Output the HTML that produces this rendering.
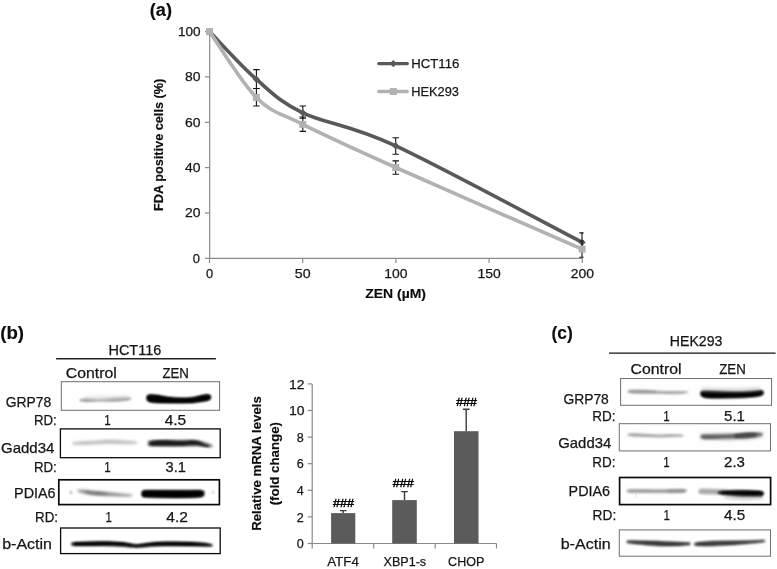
<!DOCTYPE html>
<html><head><meta charset="utf-8"><title>Figure</title>
<style>
html,body{margin:0;padding:0;background:#fff;}
body{width:777px;height:569px;overflow:hidden;font-family:"Liberation Sans",sans-serif;}
svg{display:block;position:absolute;left:0;top:0;}
text{font-family:"Liberation Sans",sans-serif;fill:#161616;stroke:#161616;stroke-width:0.25px;}
.b{font-weight:bold;fill:#0c0c0c;stroke:#0c0c0c;stroke-width:0.15px;}
</style></head><body>
<svg width="777" height="569" viewBox="0 0 777 569">
<defs>
<filter id="f1" x="-20%" y="-100%" width="140%" height="300%"><feGaussianBlur stdDeviation="1.1"/></filter>
<filter id="f2" x="-20%" y="-100%" width="140%" height="300%"><feGaussianBlur stdDeviation="1.8"/></filter>
<filter id="f3" x="-20%" y="-100%" width="140%" height="300%"><feGaussianBlur stdDeviation="0.8"/></filter>
</defs>
<rect x="0" y="0" width="777" height="569" fill="#fff"/>
<g opacity="0.999">

<text x="149.8" y="16.4" font-size="17.5" textLength="22.2" lengthAdjust="spacingAndGlyphs" class="b">(a)</text>
<g stroke="#8a8a8a" stroke-width="1.2" fill="none">
<path d="M209.7 31 V258.3 H582.5"/>
<path d="M205 258.3 H209.5"/>
<path d="M205 213.0 H209.5"/>
<path d="M205 167.6 H209.5"/>
<path d="M205 122.3 H209.5"/>
<path d="M205 76.9 H209.5"/>
<path d="M205 31.6 H209.5"/>
<path d="M209.5 258.3 V263"/>
<path d="M302.7 258.3 V263"/>
<path d="M395.9 258.3 V263"/>
<path d="M489.1 258.3 V263"/>
<path d="M582.3 258.3 V263"/>
</g>
<text x="192.8" y="262.6" font-size="13.3" textLength="7.2" lengthAdjust="spacingAndGlyphs">0</text>
<text x="185.1" y="217.3" font-size="13.3" textLength="15.5" lengthAdjust="spacingAndGlyphs">20</text>
<text x="185.1" y="171.9" font-size="13.3" textLength="15.5" lengthAdjust="spacingAndGlyphs">40</text>
<text x="185.1" y="126.6" font-size="13.3" textLength="15.5" lengthAdjust="spacingAndGlyphs">60</text>
<text x="185.1" y="81.2" font-size="13.3" textLength="15.5" lengthAdjust="spacingAndGlyphs">80</text>
<text x="178.0" y="35.9" font-size="13.3" textLength="22.6" lengthAdjust="spacingAndGlyphs">100</text>
<text x="205.9" y="278.0" font-size="13.3" textLength="7.2" lengthAdjust="spacingAndGlyphs">0</text>
<text x="294.8" y="278.0" font-size="13.3" textLength="15.8" lengthAdjust="spacingAndGlyphs">50</text>
<text x="384.3" y="278.0" font-size="13.3" textLength="23.2" lengthAdjust="spacingAndGlyphs">100</text>
<text x="477.5" y="278.0" font-size="13.3" textLength="23.2" lengthAdjust="spacingAndGlyphs">150</text>
<text x="570.7" y="278.0" font-size="13.3" textLength="23.2" lengthAdjust="spacingAndGlyphs">200</text>
<text x="365.3" y="297.9" font-size="12.5" textLength="60.6" lengthAdjust="spacingAndGlyphs" class="b">ZEN (µM)</text>
<text x="163.3" y="211" font-size="13.5" textLength="132.3" lengthAdjust="spacingAndGlyphs" class="b" transform="rotate(-90 163.3 211)">FDA positive cells (%)</text>
<path d="M209.5 31.6 C217.3 39.5 240.8 65.7 256.3 79.2 C271.9 92.7 279.6 101.7 302.8 112.8 C326.0 123.9 349.1 124.3 395.7 145.9 C442.2 167.5 551.0 226.3 582.1 242.4" fill="none" stroke="#595959" stroke-width="3.6" stroke-linecap="round" stroke-linejoin="round"/>
<path d="M256.4 69.6 V88.5 M253.2 69.6 H259.59999999999997 M253.2 88.5 H259.59999999999997" stroke="#111" stroke-width="1.1" fill="none"/>
<path d="M302.8 106 V118.3 M299.6 106 H306.0 M299.6 118.3 H306.0" stroke="#111" stroke-width="1.1" fill="none"/>
<path d="M395.7 137.7 V154.2 M392.5 137.7 H398.9 M392.5 154.2 H398.9" stroke="#111" stroke-width="1.1" fill="none"/>
<path d="M582.0 232.9 V251.5 M579.4 232.9 H583.6 M579.4 251.5 H583.6" stroke="#111" stroke-width="1.1" fill="none"/>
<path d="M205.9 31.6 L209.5 28.0 L213.1 31.6 L209.5 35.2Z" fill="#595959"/>
<path d="M252.7 79.2 L256.3 75.6 L259.9 79.2 L256.3 82.8Z" fill="#595959"/>
<path d="M299.2 112.8 L302.8 109.2 L306.4 112.8 L302.8 116.4Z" fill="#595959"/>
<path d="M392.1 145.9 L395.7 142.3 L399.3 145.9 L395.7 149.5Z" fill="#595959"/>
<path d="M578.5 242.4 L582.1 238.8 L585.7 242.4 L582.1 246.0Z" fill="#595959"/>
<path d="M209.5 31.6 C217.3 42.6 240.8 81.9 256.3 97.4 C271.9 112.9 279.6 112.7 302.8 124.4 C326.0 136.1 349.1 146.7 395.7 167.5 C442.2 188.3 551.0 235.5 582.1 249.1" fill="none" stroke="#b2b2b2" stroke-width="3.6" stroke-linecap="round" stroke-linejoin="round"/>
<path d="M256.4 88.5 V106 M253.2 88.5 H259.59999999999997 M253.2 106 H259.59999999999997" stroke="#111" stroke-width="1.1" fill="none"/>
<path d="M302.8 117 V131.4 M299.6 117 H306.0 M299.6 131.4 H306.0" stroke="#111" stroke-width="1.1" fill="none"/>
<path d="M395.7 160.9 V174.2 M392.5 160.9 H398.9 M392.5 174.2 H398.9" stroke="#111" stroke-width="1.1" fill="none"/>
<path d="M582.0 241 V257.2 M579.4 241 H583.6 M579.4 257.2 H583.6" stroke="#111" stroke-width="1.1" fill="none"/>
<rect x="206.0" y="28.1" width="7" height="7" fill="#b2b2b2"/>
<rect x="252.8" y="93.9" width="7" height="7" fill="#b2b2b2"/>
<rect x="299.3" y="120.9" width="7" height="7" fill="#b2b2b2"/>
<rect x="392.2" y="164.0" width="7" height="7" fill="#b2b2b2"/>
<rect x="578.6" y="245.6" width="7" height="7" fill="#b2b2b2"/>
<path d="M378.8 63.6 H407.3" stroke="#595959" stroke-width="3.4" stroke-linecap="round"/>
<path d="M389.7 63.6 L393.3 60 L396.9 63.6 L393.3 67.2Z" fill="#595959"/>
<path d="M378.8 91.5 H407.3" stroke="#b2b2b2" stroke-width="3.4" stroke-linecap="round"/>
<rect x="389.8" y="88" width="7" height="7" fill="#b2b2b2"/>
<text x="411.3" y="68.4" font-size="13.5" textLength="48.0" lengthAdjust="spacingAndGlyphs">HCT116</text>
<text x="411.3" y="96.1" font-size="13.5" textLength="47.7" lengthAdjust="spacingAndGlyphs">HEK293</text>
<text x="0.2" y="338.7" font-size="17.5" textLength="23.8" lengthAdjust="spacingAndGlyphs" class="b">(b)</text>
<text x="108.5" y="354.5" font-size="14.5" textLength="52.7" lengthAdjust="spacingAndGlyphs">HCT116</text>
<path d="M56.1 358.7 H215.9" stroke="#222" stroke-width="1.4"/>
<text x="65.8" y="377.8" font-size="14.3" textLength="51.0" lengthAdjust="spacingAndGlyphs">Control</text>
<text x="162.4" y="377.8" font-size="14.3" textLength="26.5" lengthAdjust="spacingAndGlyphs">ZEN</text>
<rect x="61.3" y="381.7" width="158.3" height="28.6" fill="#fefefe" stroke="#6e6e6e" stroke-width="1"/>
<path d="M80.0 399.8 C81.2 399.7 84.3 399.0 87.0 399.0 C89.7 399.0 93.2 399.8 96.0 399.9 C98.8 400.0 101.3 399.8 104.0 399.6 C106.7 399.4 109.3 398.9 112.0 398.7 C114.7 398.5 117.5 398.3 120.0 398.2 C122.5 398.1 125.2 398.1 127.0 398.1 C128.8 398.1 130.3 398.3 131.0 398.3 L131.0 398.9 C130.3 399.1 128.8 399.6 127.0 399.9 C125.2 400.2 122.5 400.6 120.0 400.8 C117.5 401.0 114.7 401.1 112.0 401.1 C109.3 401.1 106.7 400.8 104.0 400.8 C101.3 400.8 98.8 400.8 96.0 400.9 C93.2 401.0 89.7 401.4 87.0 401.4 C84.3 401.3 81.2 400.7 80.0 400.6Z" fill="#888" stroke="#888" stroke-width="1" stroke-linejoin="round" opacity="0.9" filter="url(#f1)"/>
<path d="M84.0 397.0 C87.5 396.9 97.7 396.7 105.0 396.5 C112.3 396.3 124.2 396.1 128.0 396.0 L128.0 399.0 C124.2 399.2 112.3 400.3 105.0 400.5 C97.7 400.7 87.5 400.1 84.0 400.0Z" fill="#ccc" stroke="#ccc" stroke-width="1" stroke-linejoin="round" opacity="0.5" filter="url(#f2)"/>
<path d="M147.5 396.2 C147.9 396.1 148.2 395.3 150.0 395.2 C151.8 395.1 155.0 395.2 158.0 395.6 C161.0 396.0 164.3 397.1 168.0 397.6 C171.7 398.1 176.0 398.5 180.0 398.6 C184.0 398.7 188.2 398.7 192.0 398.2 C195.8 397.7 200.3 396.0 203.0 395.5 C205.7 395.0 206.8 395.0 208.0 395.1 C209.2 395.2 209.7 395.8 210.0 395.9 L210.0 398.5 C209.7 398.7 209.2 399.3 208.0 399.7 C206.8 400.1 205.7 400.3 203.0 400.7 C200.3 401.1 195.8 401.9 192.0 402.2 C188.2 402.5 184.0 402.4 180.0 402.4 C176.0 402.4 171.7 402.4 168.0 402.4 C164.3 402.4 161.0 402.4 158.0 402.2 C155.0 402.0 151.8 401.8 150.0 401.4 C148.2 401.0 147.9 400.0 147.5 399.8Z" fill="#000" stroke="#000" stroke-width="1" stroke-linejoin="round" opacity="1" filter="url(#f3)"/>
<path d="M147.0 395.8 C147.8 395.7 148.2 394.7 152.0 395.0 C155.8 395.3 163.7 397.2 170.0 397.7 C176.3 398.2 184.0 398.3 190.0 397.9 C196.0 397.5 202.6 395.5 206.0 395.1 C209.4 394.7 209.8 395.5 210.5 395.6 L210.5 399.0 C209.8 399.3 209.4 400.1 206.0 400.7 C202.6 401.3 196.0 402.2 190.0 402.5 C184.0 402.8 176.3 402.8 170.0 402.7 C163.7 402.6 155.8 402.4 152.0 402.0 C148.2 401.6 147.8 400.5 147.0 400.2Z" fill="#000" stroke="#000" stroke-width="1" stroke-linejoin="round" opacity="0.7" filter="url(#f1)"/>
<text x="5.7" y="406.6" font-size="14.5" textLength="45.5" lengthAdjust="spacingAndGlyphs">GRP78</text>
<text x="33.9" y="425.4" font-size="14.3" textLength="22.8" lengthAdjust="spacingAndGlyphs">RD:</text>
<text x="104.3" y="425.4" font-size="14.3" textLength="6.4" lengthAdjust="spacingAndGlyphs">1</text>
<text x="164.7" y="425.4" font-size="14.3" textLength="21.5" lengthAdjust="spacingAndGlyphs">4.5</text>
<rect x="60.4" y="428.9" width="159.8" height="28.8" fill="#fff" stroke="#0a0a0a" stroke-width="1.3"/>
<path d="M73.0 442.6 C75.0 442.5 80.5 442.1 85.0 441.8 C89.5 441.5 95.8 441.1 100.0 440.9 C104.2 440.6 106.3 440.3 110.0 440.3 C113.7 440.3 118.3 440.8 122.0 441.0 C125.7 441.2 129.5 441.5 132.0 441.7 C134.5 441.9 136.2 442.2 137.0 442.3 L137.0 443.3 C136.2 443.3 134.5 443.5 132.0 443.5 C129.5 443.5 125.7 443.5 122.0 443.4 C118.3 443.3 113.7 443.1 110.0 443.1 C106.3 443.1 104.2 443.3 100.0 443.5 C95.8 443.7 89.5 444.1 85.0 444.2 C80.5 444.3 75.0 444.2 73.0 444.1Z" fill="#b0b0b0" stroke="#b0b0b0" stroke-width="1" stroke-linejoin="round" opacity="0.9" filter="url(#f2)"/>
<path d="M149.5 442.6 C150.1 442.4 150.4 441.5 153.0 441.2 C155.6 440.9 160.5 440.8 165.0 440.8 C169.5 440.8 175.5 441.4 180.0 441.4 C184.5 441.4 189.0 440.9 192.0 440.9 C195.0 440.9 196.0 441.1 198.0 441.6 C200.0 442.1 202.2 443.4 204.0 444.1 C205.8 444.8 208.2 445.5 209.0 445.8 L209.0 446.6 C208.2 446.5 205.8 446.2 204.0 445.9 C202.2 445.6 200.0 445.0 198.0 444.8 C196.0 444.6 195.0 444.6 192.0 444.7 C189.0 444.8 184.5 445.1 180.0 445.2 C175.5 445.3 169.5 445.2 165.0 445.2 C160.5 445.2 155.6 445.3 153.0 445.2 C150.4 445.1 150.1 444.7 149.5 444.6Z" fill="#000" stroke="#000" stroke-width="1" stroke-linejoin="round" opacity="1" filter="url(#f3)"/>
<path d="M148.0 440.9 C152.5 440.8 166.7 440.2 175.0 440.2 C183.3 440.2 191.8 439.9 198.0 440.6 C204.2 441.4 209.7 444.1 212.0 444.8 L212.0 447.2 C209.7 447.1 204.2 446.3 198.0 446.1 C191.8 446.0 183.3 446.2 175.0 446.2 C166.7 446.2 152.5 445.9 148.0 445.9Z" fill="#333" stroke="#333" stroke-width="1" stroke-linejoin="round" opacity="0.5" filter="url(#f1)"/>
<text x="1.0" y="453.4" font-size="14.5" textLength="53.4" lengthAdjust="spacingAndGlyphs">Gadd34</text>
<text x="33.9" y="472" font-size="14.3" textLength="22.8" lengthAdjust="spacingAndGlyphs">RD:</text>
<text x="104.3" y="472" font-size="14.3" textLength="6.4" lengthAdjust="spacingAndGlyphs">1</text>
<text x="165.5" y="472" font-size="14.3" textLength="20.4" lengthAdjust="spacingAndGlyphs">3.1</text>
<rect x="58.8" y="479.8" width="160.6" height="24.8" fill="#fff" stroke="#0a0a0a" stroke-width="1.7"/>
<path d="M69.5 491.6 C69.9 491.7 71.6 491.8 72.0 491.9 L72.0 493.4 C71.6 493.3 69.9 493.2 69.5 493.1Z" fill="#999" stroke="#999" stroke-width="1" stroke-linejoin="round" opacity="0.7" filter="url(#f1)"/>
<path d="M78.0 490.3 C79.0 490.3 81.7 490.2 84.0 490.3 C86.3 490.4 88.7 490.9 92.0 491.2 C95.3 491.5 100.0 491.9 104.0 492.3 C108.0 492.7 112.3 493.1 116.0 493.5 C119.7 493.9 123.3 494.2 126.0 494.5 C128.7 494.8 131.0 495.0 132.0 495.1 L132.0 495.7 C131.0 495.7 128.7 495.9 126.0 495.9 C123.3 495.9 119.7 495.8 116.0 495.7 C112.3 495.6 108.0 495.5 104.0 495.3 C100.0 495.1 95.3 494.8 92.0 494.4 C88.7 494.0 86.3 493.4 84.0 492.9 C81.7 492.4 79.0 491.6 78.0 491.3Z" fill="#858585" stroke="#858585" stroke-width="1" stroke-linejoin="round" opacity="1" filter="url(#f2)"/>
<path d="M86.0 491.4 C87.7 491.5 92.7 492.0 96.0 492.3 C99.3 492.6 104.3 493.1 106.0 493.3 L106.0 494.7 C104.3 494.6 99.3 494.6 96.0 494.3 C92.7 494.0 87.7 493.2 86.0 493.0Z" fill="#6a6a6a" stroke="#6a6a6a" stroke-width="1" stroke-linejoin="round" opacity="0.55" filter="url(#f1)"/>
<path d="M142.5 492.0 C142.9 491.8 142.1 491.2 145.0 491.0 C147.9 490.8 153.3 491.0 160.0 491.0 C166.7 491.0 178.5 491.1 185.0 491.1 C191.5 491.1 196.0 490.8 199.0 490.9 C202.0 491.0 202.3 491.6 203.0 491.7 L203.0 495.3 C202.3 495.5 202.0 496.2 199.0 496.5 C196.0 496.8 191.5 497.0 185.0 497.1 C178.5 497.2 166.7 497.1 160.0 497.0 C153.3 496.9 147.9 496.8 145.0 496.6 C142.1 496.4 142.9 495.8 142.5 495.6Z" fill="#000" stroke="#000" stroke-width="1" stroke-linejoin="round" opacity="1" filter="url(#f3)"/>
<path d="M142.0 491.5 C143.3 491.3 141.2 490.6 150.0 490.5 C158.8 490.4 186.0 490.5 195.0 490.6 C204.0 490.7 202.5 491.1 204.0 491.2 L204.0 495.8 C202.5 496.0 204.0 497.0 195.0 497.2 C186.0 497.4 158.8 497.3 150.0 497.1 C141.2 496.9 143.3 496.3 142.0 496.1Z" fill="#000" stroke="#000" stroke-width="1" stroke-linejoin="round" opacity="0.7" filter="url(#f1)"/>
<path d="M212.0 491.6 C212.3 491.6 213.7 491.6 214.0 491.6 L214.0 493.1 C213.7 493.1 212.3 493.1 212.0 493.1Z" fill="#bbb" stroke="#bbb" stroke-width="1" stroke-linejoin="round" opacity="0.7" filter="url(#f1)"/>
<text x="14.1" y="497.7" font-size="14.5" textLength="41.5" lengthAdjust="spacingAndGlyphs">PDIA6</text>
<text x="35.0" y="521.7" font-size="14.3" textLength="23.0" lengthAdjust="spacingAndGlyphs">RD:</text>
<text x="105.6" y="521.7" font-size="14.3" textLength="6.4" lengthAdjust="spacingAndGlyphs">1</text>
<text x="166.3" y="521.7" font-size="14.3" textLength="21.5" lengthAdjust="spacingAndGlyphs">4.2</text>
<rect x="60.6" y="528" width="159.6" height="25.6" fill="#fff" stroke="#0a0a0a" stroke-width="1.3"/>
<path d="M72.5 543.6 C73.1 543.5 73.1 542.9 76.0 542.7 C78.9 542.5 84.7 542.4 90.0 542.3 C95.3 542.2 102.7 542.0 108.0 542.1 C113.3 542.2 118.2 542.3 122.0 542.6 C125.8 542.9 128.5 543.6 131.0 544.1 C133.5 544.6 136.0 545.3 137.0 545.5 L137.0 546.7 C136.0 546.6 133.5 546.5 131.0 546.3 C128.5 546.1 125.8 545.6 122.0 545.4 C118.2 545.2 113.3 545.1 108.0 545.1 C102.7 545.1 95.3 545.3 90.0 545.3 C84.7 545.3 78.9 545.4 76.0 545.3 C73.1 545.2 73.1 544.7 72.5 544.6Z" fill="#000" stroke="#000" stroke-width="1" stroke-linejoin="round" opacity="1" filter="url(#f3)"/>
<path d="M136.0 545.5 C137.2 545.3 140.3 544.5 143.0 544.1 C145.7 543.7 148.3 543.2 152.0 542.9 C155.7 542.6 159.5 542.5 165.0 542.4 C170.5 542.3 179.2 542.5 185.0 542.6 C190.8 542.7 196.2 542.9 200.0 543.2 C203.8 543.5 206.1 543.9 208.0 544.2 C209.9 544.5 210.9 545.0 211.5 545.1 L211.5 545.7 C210.9 545.7 209.9 545.8 208.0 545.8 C206.1 545.8 203.8 545.7 200.0 545.6 C196.2 545.5 190.8 545.5 185.0 545.4 C179.2 545.3 170.5 545.2 165.0 545.2 C159.5 545.2 155.7 545.3 152.0 545.5 C148.3 545.7 145.7 546.1 143.0 546.3 C140.3 546.5 137.2 546.6 136.0 546.7Z" fill="#000" stroke="#000" stroke-width="1" stroke-linejoin="round" opacity="1" filter="url(#f3)"/>
<path d="M71.5 542.7 C77.1 542.5 94.2 541.3 105.0 541.6 C115.8 541.9 126.0 544.7 136.0 544.7 C146.0 544.8 154.3 542.2 165.0 541.9 C175.7 541.6 192.1 542.3 200.0 542.8 C207.9 543.3 210.4 544.4 212.5 544.7 L212.5 546.1 C210.4 546.1 207.9 546.1 200.0 546.0 C192.1 545.9 175.7 545.5 165.0 545.7 C154.3 545.9 146.0 547.3 136.0 547.3 C126.0 547.3 115.8 545.9 105.0 545.6 C94.2 545.3 77.1 545.3 71.5 545.3Z" fill="#000" stroke="#000" stroke-width="1" stroke-linejoin="round" opacity="0.5" filter="url(#f1)"/>
<text x="2.2" y="549" font-size="14.5" textLength="49.8" lengthAdjust="spacingAndGlyphs">b-Actin</text>
<g stroke="#8a8a8a" stroke-width="1.2" fill="none">
<path d="M312.2 383.9 V543.5 H496.5"/>
<path d="M307.7 543.5 H312.2"/>
<path d="M307.7 516.9 H312.2"/>
<path d="M307.7 490.3 H312.2"/>
<path d="M307.7 463.7 H312.2"/>
<path d="M307.7 437.1 H312.2"/>
<path d="M307.7 410.5 H312.2"/>
<path d="M307.7 383.9 H312.2"/>
<path d="M312.2 543.5 V548.4"/>
<path d="M373.7 543.5 V548.4"/>
<path d="M435.2 543.5 V548.4"/>
<path d="M496.5 543.5 V548.4"/>
</g>
<text x="296.8" y="548.1" font-size="13.3" textLength="7.0" lengthAdjust="spacingAndGlyphs">0</text>
<text x="296.8" y="521.5" font-size="13.3" textLength="7.0" lengthAdjust="spacingAndGlyphs">2</text>
<text x="296.8" y="494.9" font-size="13.3" textLength="7.0" lengthAdjust="spacingAndGlyphs">4</text>
<text x="296.8" y="468.3" font-size="13.3" textLength="7.0" lengthAdjust="spacingAndGlyphs">6</text>
<text x="296.8" y="441.7" font-size="13.3" textLength="7.0" lengthAdjust="spacingAndGlyphs">8</text>
<text x="288.9" y="415.1" font-size="13.3" textLength="15.5" lengthAdjust="spacingAndGlyphs">10</text>
<text x="288.9" y="388.5" font-size="13.3" textLength="15.5" lengthAdjust="spacingAndGlyphs">12</text>
<rect x="331.1" y="513.1" width="24.2" height="30.4" fill="#5b5b5b"/>
<path d="M343.2 513.1 V510.6 M339.9 510.6 H346.5" stroke="#3a3a3a" stroke-width="1.4" fill="none"/>
<rect x="392.2" y="500.1" width="24.6" height="43.4" fill="#5b5b5b"/>
<path d="M404.5 500.1 V491.6 M401.2 491.6 H407.8" stroke="#3a3a3a" stroke-width="1.4" fill="none"/>
<rect x="454.0" y="431.2" width="24.5" height="112.3" fill="#5b5b5b"/>
<path d="M466.2 431.2 V409.2 M462.9 409.2 H469.6" stroke="#3a3a3a" stroke-width="1.4" fill="none"/>
<text x="333.0" y="506.9" font-size="11" textLength="21.1" lengthAdjust="spacingAndGlyphs" fill="#000" style="stroke:#000;stroke-width:0.45px">###</text>
<text x="392.8" y="487.4" font-size="11" textLength="21.0" lengthAdjust="spacingAndGlyphs" fill="#000" style="stroke:#000;stroke-width:0.45px">###</text>
<text x="456.3" y="405.6" font-size="11" textLength="20.6" lengthAdjust="spacingAndGlyphs" fill="#000" style="stroke:#000;stroke-width:0.45px">###</text>
<text x="327.2" y="566" font-size="13" textLength="31.7" lengthAdjust="spacingAndGlyphs">ATF4</text>
<text x="383.5" y="566" font-size="13" textLength="42.6" lengthAdjust="spacingAndGlyphs">XBP1-s</text>
<text x="448.1" y="566" font-size="13" textLength="36.2" lengthAdjust="spacingAndGlyphs">CHOP</text>
<text x="261.4" y="530.8" font-size="13.7" textLength="134.6" lengthAdjust="spacingAndGlyphs" class="b" transform="rotate(-90 261.4 530.8)">Relative mRNA levels</text>
<text x="279.1" y="505.3" font-size="13.7" textLength="83.3" lengthAdjust="spacingAndGlyphs" class="b" transform="rotate(-90 279.1 505.3)">(fold change)</text>
<text x="551.5" y="339" font-size="17.5" textLength="21.3" lengthAdjust="spacingAndGlyphs" class="b">(c)</text>
<text x="669.8" y="345.6" font-size="14.5" textLength="52.6" lengthAdjust="spacingAndGlyphs">HEK293</text>
<path d="M609 353.2 H775.6" stroke="#111" stroke-width="1.3"/>
<text x="630.6" y="373.6" font-size="14.3" textLength="51.0" lengthAdjust="spacingAndGlyphs">Control</text>
<text x="719.2" y="373.6" font-size="14.3" textLength="26.6" lengthAdjust="spacingAndGlyphs">ZEN</text>
<rect x="620.6" y="378.5" width="151.0" height="26.8" fill="#fefefe" stroke="#6e6e6e" stroke-width="1"/>
<path d="M628.0 391.0 C629.0 390.9 631.0 390.4 634.0 390.3 C637.0 390.2 642.0 390.3 646.0 390.4 C650.0 390.6 654.3 391.0 658.0 391.2 C661.7 391.4 664.7 391.4 668.0 391.5 C671.3 391.6 675.3 391.5 678.0 391.5 C680.7 391.5 682.4 391.6 684.0 391.7 C685.6 391.8 686.9 391.8 687.5 391.8 L687.5 392.6 C686.9 392.7 685.6 392.9 684.0 393.1 C682.4 393.3 680.7 393.6 678.0 393.7 C675.3 393.8 671.3 393.8 668.0 393.7 C664.7 393.6 661.7 393.3 658.0 393.2 C654.3 393.1 650.0 393.2 646.0 393.2 C642.0 393.1 637.0 393.1 634.0 392.9 C631.0 392.7 629.0 392.3 628.0 392.2Z" fill="#9c9c9c" stroke="#9c9c9c" stroke-width="1" stroke-linejoin="round" opacity="0.9" filter="url(#f1)"/>
<path d="M630.0 390.6 C632.5 390.6 640.7 390.6 645.0 390.7 C649.3 390.9 654.2 391.4 656.0 391.5 L656.0 392.5 C654.2 392.5 649.3 392.6 645.0 392.5 C640.7 392.4 632.5 392.2 630.0 392.2Z" fill="#888" stroke="#888" stroke-width="1" stroke-linejoin="round" opacity="0.4" filter="url(#f1)"/>
<path d="M701.5 392.3 C701.9 392.2 702.2 391.6 704.0 391.5 C705.8 391.4 707.7 391.6 712.0 391.8 C716.3 392.0 724.5 392.4 730.0 392.5 C735.5 392.6 740.7 392.6 745.0 392.4 C749.3 392.3 753.3 391.8 756.0 391.6 C758.7 391.4 759.9 391.2 761.0 391.2 C762.1 391.2 762.3 391.7 762.6 391.8 L762.6 393.6 C762.3 393.8 762.1 394.4 761.0 394.8 C759.9 395.2 758.7 395.7 756.0 396.0 C753.3 396.3 749.3 396.6 745.0 396.8 C740.7 397.0 735.5 397.0 730.0 397.1 C724.5 397.2 716.3 397.5 712.0 397.4 C707.7 397.3 705.8 397.1 704.0 396.7 C702.2 396.3 701.9 395.2 701.5 394.9Z" fill="#000" stroke="#000" stroke-width="1" stroke-linejoin="round" opacity="1" filter="url(#f3)"/>
<path d="M701.0 391.6 C702.5 391.6 703.5 391.3 710.0 391.4 C716.5 391.5 731.7 392.2 740.0 392.1 C748.3 392.0 756.1 390.9 760.0 390.8 C763.9 390.7 762.7 391.3 763.2 391.4 L763.2 394.0 C762.7 394.3 763.9 395.0 760.0 395.6 C756.1 396.2 748.3 397.1 740.0 397.5 C731.7 397.9 716.5 398.1 710.0 397.8 C703.5 397.5 702.5 396.0 701.0 395.6Z" fill="#000" stroke="#000" stroke-width="1" stroke-linejoin="round" opacity="0.7" filter="url(#f1)"/>
<path d="M702.0 388.0 C706.7 388.1 720.3 388.6 730.0 388.5 C739.7 388.4 755.0 387.7 760.0 387.5 L760.0 391.5 C755.0 391.7 739.7 392.4 730.0 392.5 C720.3 392.6 706.7 392.1 702.0 392.0Z" fill="#999" stroke="#999" stroke-width="1" stroke-linejoin="round" opacity="0.35" filter="url(#f2)"/>
<text x="563.4" y="403.5" font-size="14.5" textLength="45.4" lengthAdjust="spacingAndGlyphs">GRP78</text>
<text x="592.3" y="421" font-size="14.3" textLength="23.2" lengthAdjust="spacingAndGlyphs">RD:</text>
<text x="663.3" y="421" font-size="14.3" textLength="6.4" lengthAdjust="spacingAndGlyphs">1</text>
<text x="724.1" y="421" font-size="14.3" textLength="20.8" lengthAdjust="spacingAndGlyphs">5.1</text>
<rect x="619.3" y="423.7" width="151.2" height="27.2" fill="#fefefe" stroke="#6e6e6e" stroke-width="1"/>
<path d="M628.0 434.2 C629.0 434.1 631.0 433.7 634.0 433.7 C637.0 433.7 642.0 434.2 646.0 434.4 C650.0 434.6 654.0 435.1 658.0 435.1 C662.0 435.2 666.7 434.7 670.0 434.7 C673.3 434.7 675.8 434.8 678.0 434.9 C680.2 435.0 682.2 435.2 683.0 435.2 L683.0 436.0 C682.2 436.1 680.2 436.2 678.0 436.3 C675.8 436.4 673.3 436.6 670.0 436.7 C666.7 436.8 662.0 436.9 658.0 436.9 C654.0 436.9 650.0 436.7 646.0 436.6 C642.0 436.5 637.0 436.3 634.0 436.1 C631.0 435.9 629.0 435.5 628.0 435.4Z" fill="#9c9c9c" stroke="#9c9c9c" stroke-width="1" stroke-linejoin="round" opacity="0.9" filter="url(#f1)"/>
<path d="M701.5 435.8 C702.2 435.7 702.9 435.4 706.0 435.3 C709.1 435.2 715.2 435.3 720.0 435.2 C724.8 435.1 730.3 435.0 735.0 434.8 C739.7 434.6 744.5 434.0 748.0 433.8 C751.5 433.6 753.8 433.6 756.0 433.6 C758.2 433.6 760.6 433.8 761.5 433.9 L761.5 434.9 C760.6 435.1 758.2 435.6 756.0 436.0 C753.8 436.4 751.5 436.7 748.0 437.0 C744.5 437.3 739.7 437.4 735.0 437.6 C730.3 437.8 724.8 437.9 720.0 438.0 C715.2 438.1 709.1 438.4 706.0 438.3 C702.9 438.2 702.2 437.6 701.5 437.4Z" fill="#2a2a2a" stroke="#2a2a2a" stroke-width="1" stroke-linejoin="round" opacity="0.95" filter="url(#f3)"/>
<path d="M735.0 434.8 C737.0 434.6 743.5 434.0 747.0 433.8 C750.5 433.6 754.5 433.7 756.0 433.7 L756.0 435.9 C754.5 436.1 750.5 436.8 747.0 437.0 C743.5 437.2 737.0 437.2 735.0 437.2Z" fill="#000" stroke="#000" stroke-width="1" stroke-linejoin="round" opacity="0.9" filter="url(#f3)"/>
<path d="M701.0 434.1 C705.8 434.0 721.0 433.6 730.0 433.4 C739.0 433.1 749.5 432.5 755.0 432.4 C760.5 432.3 761.7 432.8 763.0 432.9 L763.0 436.4 C761.7 436.7 760.5 437.8 755.0 438.4 C749.5 439.0 739.0 439.7 730.0 439.9 C721.0 440.0 705.8 439.2 701.0 439.1Z" fill="#888" stroke="#888" stroke-width="1" stroke-linejoin="round" opacity="0.5" filter="url(#f2)"/>
<text x="558.3" y="447.9" font-size="14.5" textLength="52.9" lengthAdjust="spacingAndGlyphs">Gadd34</text>
<text x="592.3" y="467" font-size="14.3" textLength="23.2" lengthAdjust="spacingAndGlyphs">RD:</text>
<text x="663.3" y="467" font-size="14.3" textLength="6.4" lengthAdjust="spacingAndGlyphs">1</text>
<text x="724.1" y="467" font-size="14.3" textLength="20.8" lengthAdjust="spacingAndGlyphs">2.3</text>
<rect x="619.6" y="477.5" width="151.0" height="27.1" fill="#fff" stroke="#0a0a0a" stroke-width="1.7"/>
<path d="M627.0 490.3 C627.8 490.2 629.0 489.6 632.0 489.5 C635.0 489.4 640.3 489.6 645.0 489.6 C649.7 489.7 655.5 489.8 660.0 489.8 C664.5 489.8 668.3 489.7 672.0 489.6 C675.7 489.5 679.6 489.3 682.0 489.4 C684.4 489.5 685.8 490.0 686.5 490.1 L686.5 491.5 C685.8 491.6 684.4 492.2 682.0 492.4 C679.6 492.6 675.7 492.6 672.0 492.6 C668.3 492.6 664.5 492.6 660.0 492.6 C655.5 492.6 649.7 492.6 645.0 492.6 C640.3 492.6 635.0 492.6 632.0 492.5 C629.0 492.4 627.8 491.8 627.0 491.7Z" fill="#9c9c9c" stroke="#9c9c9c" stroke-width="1" stroke-linejoin="round" opacity="0.95" filter="url(#f1)"/>
<path d="M668.0 490.2 C670.7 490.1 681.3 489.9 684.0 489.8 L684.0 491.8 C681.3 491.9 670.7 492.1 668.0 492.2Z" fill="#888" stroke="#888" stroke-width="1" stroke-linejoin="round" opacity="0.5" filter="url(#f1)"/>
<path d="M635.5 495.2 C635.7 495.2 636.3 495.2 636.5 495.2 L636.5 496.2 C636.3 496.2 635.7 496.2 635.5 496.2Z" fill="#aaa" stroke="#aaa" stroke-width="1" stroke-linejoin="round" opacity="0.8" filter="url(#f3)"/>
<path d="M699.0 489.9 C699.5 489.8 699.8 489.2 702.0 489.1 C704.2 489.0 708.7 489.2 712.0 489.3 C715.3 489.4 718.2 489.4 722.0 489.6 C725.8 489.8 728.3 490.0 735.0 490.3 C741.7 490.6 757.5 491.4 762.0 491.6 L762.0 495.2 C757.5 495.1 741.7 495.0 735.0 494.9 C728.3 494.8 725.8 494.6 722.0 494.4 C718.2 494.2 715.3 494.0 712.0 493.9 C708.7 493.8 704.2 493.9 702.0 493.7 C699.8 493.5 699.5 493.0 699.0 492.9Z" fill="#a2a2a2" stroke="#a2a2a2" stroke-width="1" stroke-linejoin="round" opacity="0.9" filter="url(#f1)"/>
<path d="M718.0 492.2 C719.3 492.1 723.2 491.8 726.0 491.6 C728.8 491.5 731.7 491.4 735.0 491.3 C738.3 491.2 742.3 491.2 746.0 491.2 C749.7 491.2 754.4 491.4 757.0 491.5 C759.6 491.6 760.4 491.9 761.5 492.1 C762.6 492.3 763.2 492.8 763.5 492.9 L763.5 494.3 C763.2 494.4 762.6 494.9 761.5 495.1 C760.4 495.3 759.6 495.4 757.0 495.5 C754.4 495.6 749.7 495.5 746.0 495.4 C742.3 495.3 738.3 495.1 735.0 494.9 C731.7 494.7 728.8 494.3 726.0 494.0 C723.2 493.7 719.3 493.2 718.0 493.0Z" fill="#000" stroke="#000" stroke-width="1" stroke-linejoin="round" opacity="1" filter="url(#f3)"/>
<path d="M722.0 491.8 C725.3 491.6 735.3 490.8 742.0 490.8 C748.7 490.8 758.7 491.4 762.0 491.5 L762.0 496.5 C758.7 496.5 748.7 496.8 742.0 496.4 C735.3 496.0 725.3 494.6 722.0 494.2Z" fill="#000" stroke="#000" stroke-width="1" stroke-linejoin="round" opacity="0.55" filter="url(#f1)"/>
<path d="M725.0 495.5 C728.3 495.6 738.8 495.9 745.0 496.0 C751.2 496.1 759.2 496.0 762.0 496.0 L762.0 499.0 C759.2 499.2 751.2 500.1 745.0 500.0 C738.8 499.9 728.3 498.8 725.0 498.5Z" fill="#999" stroke="#999" stroke-width="1" stroke-linejoin="round" opacity="0.4" filter="url(#f2)"/>
<text x="568.6" y="496.4" font-size="14.5" textLength="41.5" lengthAdjust="spacingAndGlyphs">PDIA6</text>
<text x="592.6" y="520.4" font-size="14.3" textLength="23.6" lengthAdjust="spacingAndGlyphs">RD:</text>
<text x="663.5" y="520.4" font-size="14.3" textLength="6.4" lengthAdjust="spacingAndGlyphs">1</text>
<text x="724.1" y="520.4" font-size="14.3" textLength="21.2" lengthAdjust="spacingAndGlyphs">4.5</text>
<rect x="619.3" y="529.9" width="151.2" height="26.3" fill="#fefefe" stroke="#6e6e6e" stroke-width="1"/>
<path d="M627.5 541.4 C628.4 541.4 630.1 541.2 633.0 541.2 C635.9 541.2 640.8 541.4 645.0 541.5 C649.2 541.6 653.8 541.7 658.0 541.9 C662.2 542.1 666.0 542.3 670.0 542.5 C674.0 542.7 678.8 542.9 682.0 543.0 C685.2 543.1 688.2 543.3 689.5 543.4 L689.5 544.2 C688.2 544.3 685.2 544.8 682.0 545.0 C678.8 545.2 674.0 545.3 670.0 545.3 C666.0 545.3 662.2 545.3 658.0 545.1 C653.8 544.9 649.2 544.4 645.0 544.1 C640.8 543.7 635.9 543.3 633.0 543.0 C630.1 542.7 628.4 542.3 627.5 542.2Z" fill="#222" stroke="#222" stroke-width="1" stroke-linejoin="round" opacity="1" filter="url(#f3)"/>
<path d="M695.0 543.7 C695.7 543.6 696.5 543.1 699.0 542.8 C701.5 542.5 706.2 542.2 710.0 542.0 C713.8 541.8 717.7 541.8 722.0 541.7 C726.3 541.6 731.7 541.6 736.0 541.5 C740.3 541.4 744.3 541.4 748.0 541.3 C751.7 541.2 755.3 541.1 758.0 541.0 C760.7 540.9 763.0 540.8 764.0 540.8 L764.0 541.2 C763.0 541.4 760.7 541.7 758.0 542.0 C755.3 542.3 751.7 542.6 748.0 542.9 C744.3 543.2 740.3 543.6 736.0 543.9 C731.7 544.2 726.3 544.5 722.0 544.7 C717.7 544.9 713.8 545.1 710.0 545.2 C706.2 545.3 701.5 545.3 699.0 545.2 C696.5 545.1 695.7 544.8 695.0 544.7Z" fill="#2c2c2c" stroke="#2c2c2c" stroke-width="1" stroke-linejoin="round" opacity="1" filter="url(#f3)"/>
<path d="M627.0 540.8 C632.2 540.9 647.5 541.0 658.0 541.3 C668.5 541.6 684.7 542.5 690.0 542.8 L690.0 544.8 C684.7 544.9 668.5 546.0 658.0 545.7 C647.5 545.4 632.2 543.3 627.0 542.8Z" fill="#444" stroke="#444" stroke-width="1" stroke-linejoin="round" opacity="0.5" filter="url(#f1)"/>
<path d="M694.5 543.2 C697.4 542.9 703.6 541.8 712.0 541.4 C720.4 541.0 736.2 541.0 745.0 540.8 C753.8 540.6 761.7 540.4 765.0 540.3 L765.0 541.7 C761.7 542.1 753.8 543.1 745.0 543.8 C736.2 544.5 720.4 545.6 712.0 545.8 C703.6 546.0 697.4 545.3 694.5 545.2Z" fill="#444" stroke="#444" stroke-width="1" stroke-linejoin="round" opacity="0.5" filter="url(#f1)"/>
<text x="560.7" y="549.4" font-size="14.5" textLength="50.0" lengthAdjust="spacingAndGlyphs">b-Actin</text>
</g></svg></body></html>
